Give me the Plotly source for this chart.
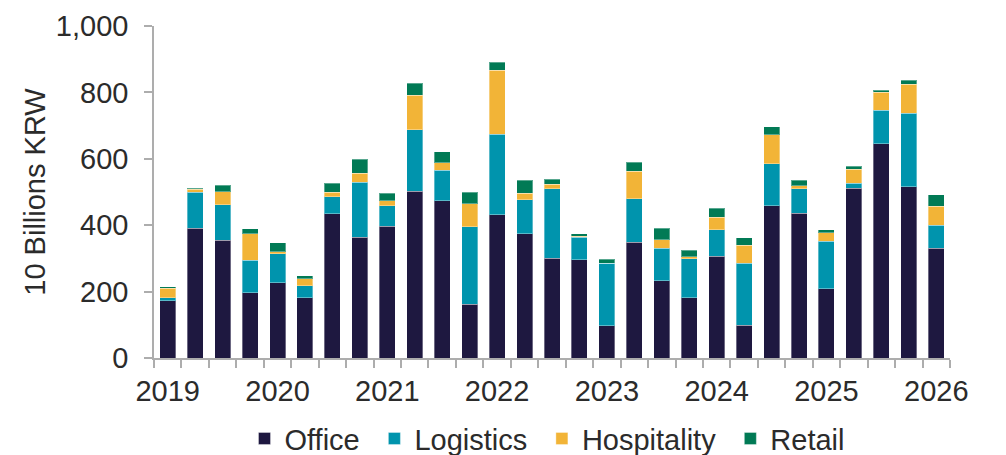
import plotly.graph_objects as go

# Quarterly transaction volume by sector, 2019 Q1 - 2026 Q1 (10 billions KRW)
quarters = [f"{y} Q{q}" for y in range(2019, 2026) for q in range(1, 5)] + ["2026 Q1"]

office = [172, 391, 354, 197, 226, 182, 435, 363, 397, 503,
          474, 162, 431, 375, 301, 296, 97, 348, 232, 182,
          307, 98, 459, 436, 209, 512, 645, 516, 330]
logistics = [9, 109, 108, 98, 88, 36, 51, 167, 62, 184,
             91, 234, 243, 102, 209, 68, 189, 131, 98, 117,
             79, 188, 126, 74, 143, 15, 102, 221, 70]
hospitality = [29, 9, 39, 79, 6, 21, 13, 26, 14, 105,
               23, 68, 192, 20, 13, 2, 0, 83, 26, 6,
               38, 53, 88, 9, 26, 42, 53, 87, 57]
retail = [5, 3, 20, 16, 27, 9, 27, 43, 24, 36,
          33, 36, 25, 39, 15, 8, 12, 28, 35, 19,
          27, 23, 23, 17, 8, 9, 7, 13, 34]

# Only the first quarter of each year carries a year label
tick_text = [q.split()[0] if q.endswith("Q1") else "" for q in quarters]

series = [
    ("Office", office, "#1E1840"),
    ("Logistics", logistics, "#0094AD"),
    ("Hospitality", hospitality, "#F2B437"),
    ("Retail", retail, "#017A55"),
]

# a three-per-em space after each name widens the gap between legend entries
LEGEND_PAD = "\u2004"

fig = go.Figure()
for name, vals, color in series:
    fig.add_trace(go.Bar(
        x=quarters, y=vals, name=name + LEGEND_PAD,
        marker=dict(color=color, line=dict(color="rgba(255,255,255,0.35)", width=1)),
    ))

font_color = "#2B2B2B"
axis_color = "#ADADAD"
FS = 29

fig.update_layout(
    barmode="stack",
    bargap=0.417,
    width=1006, height=455,
    margin=dict(l=154, r=56, t=26, b=97, autoexpand=False),
    paper_bgcolor="white",
    plot_bgcolor="white",
    font=dict(family="Liberation Sans, Arial, sans-serif", size=FS, color=font_color),
    showlegend=True,
    legend=dict(
        orientation="h", x=0.5, xanchor="center", xref="paper",
        y=0.036, yanchor="middle", yref="container",
        font=dict(size=FS, color=font_color), traceorder="normal",
        itemwidth=30,
    ),
    xaxis=dict(
        type="category",
        tickmode="array", tickvals=quarters, ticktext=tick_text,
        tickson="boundaries", ticks="outside", ticklen=8, tickwidth=1.5,
        tickcolor=axis_color, tickangle=0, ticklabelstandoff=6,
        showline=True, linecolor=axis_color, linewidth=1.5,
        showgrid=False, zeroline=False, automargin=False,
        range=[-0.5, len(quarters) - 0.5],
        tickfont=dict(size=FS, color=font_color),
    ),
    yaxis=dict(
        range=[0, 1000], tickvals=[0, 200, 400, 600, 800, 1000],
        tickformat=",", ticks="outside", ticklen=8, tickwidth=1.5,
        tickcolor=axis_color, automargin=False,
        showline=True, linecolor=axis_color, linewidth=1.5,
        showgrid=False, zeroline=False,
        ticklabelstandoff=10,
        tickfont=dict(size=FS, color=font_color),
        title=dict(text="10 Billions KRW", font=dict(size=FS, color=font_color), standoff=2),
    ),
)

fig.write_html("out.html")
